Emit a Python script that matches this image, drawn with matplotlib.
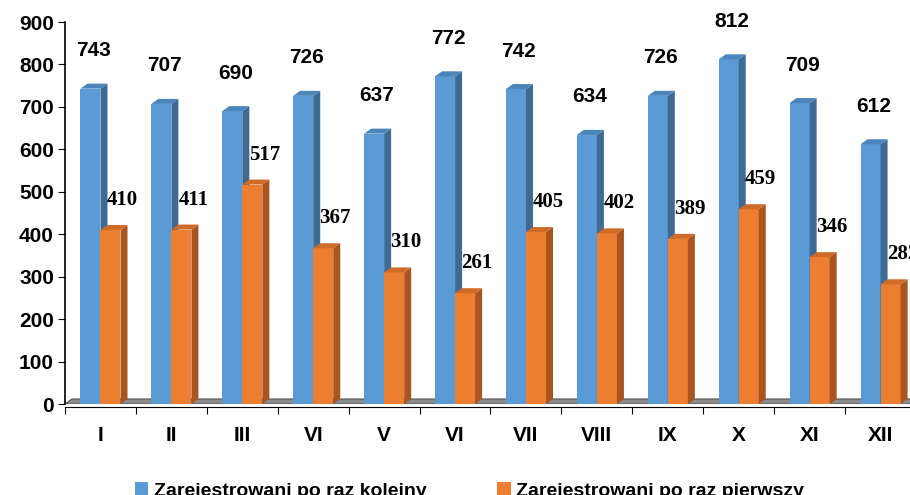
import matplotlib
matplotlib.use("Agg")
import matplotlib.pyplot as plt
from matplotlib.patches import Polygon, Patch
import numpy as np

# data
months = ["I", "II", "III", "VI", "V", "VI", "VII", "VIII", "IX", "X", "XI", "XII"]
kolejny = [743, 707, 690, 726, 637, 772, 742, 634, 726, 812, 709, 612]
pierwszy = [410, 411, 517, 367, 310, 261, 405, 402, 389, 459, 346, 282]

BLUE = ("#5B9BD5", "#3E6A93", "#4C84BC")    # front, side, top
ORANGE = ("#ED7D31", "#A9551F", "#D06B27")
FLOOR = "#8C8C8C"

plt.rcParams["font.family"] = ["Liberation Sans", "DejaVu Sans"]
plt.rcParams["font.weight"] = "bold"

W, H = 910, 495
fig = plt.figure(figsize=(W / 100, H / 100), dpi=100, facecolor="white")
# axes runs slightly past the right edge, as in the source
ax = fig.add_axes([65 / W, 1 - 404 / H, 851 / W, 382 / H])

bw = 0.2825        # bar width in category units
dx = 0.099         # depth offset (x, category units)
dy = 11.8          # depth offset (y, data units)
x = np.arange(len(months))


def _bar3d(ax, xs, vals, colors):
    front, side, top = colors
    ax.bar(xs, vals, width=bw, align="edge", color=front, zorder=3, linewidth=0)
    for x0, v in zip(xs, vals):
        x1 = x0 + bw
        ax.add_patch(Polygon([(x1, 0), (x1 + dx, dy), (x1 + dx, v + dy), (x1, v)],
                             closed=True, facecolor=side, edgecolor="none", zorder=3))
        ax.add_patch(Polygon([(x0, v), (x1, v), (x1 + dx, v + dy), (x0 + dx, v + dy)],
                             closed=True, facecolor=top, edgecolor="none", zorder=3))


# floor
ax.add_patch(Polygon([(-0.5, 0), (12.5, 0), (12.5 + dx, dy), (-0.5 + dx, dy)],
                     closed=True, facecolor=FLOOR, edgecolor="#555555",
                     linewidth=0.8, zorder=1))

_bar3d(ax, x - bw, kolejny, BLUE)
_bar3d(ax, x, pierwszy, ORANGE)

for xi, v in zip(x, kolejny):
    ax.annotate(str(v), (xi - bw / 2, v), xytext=(3, 38), textcoords="offset pixels",
                ha="center", va="center", fontsize=15, fontweight="bold",
                family=["Liberation Sans"])
for xi, v in zip(x, pierwszy):
    ax.annotate(str(v), (xi + bw / 2, v), xytext=(12, 30), textcoords="offset pixels",
                ha="center", va="center", fontsize=15, fontweight="bold",
                family=["Liberation Serif"])

ax.set_xlim(-0.5, 11.5)
ax.set_ylim(0, 900)
ax.set_yticks(range(0, 901, 100))
ax.set_xticks(x)
ax.set_xticklabels(months)
ax.set_xticks(np.arange(-0.5, 12, 1), minor=True)
ax.tick_params(axis="x", which="major", length=0, pad=14, labelsize=15)
ax.tick_params(axis="x", which="minor", length=5, direction="out", width=0.8)
ax.tick_params(axis="y", length=5, direction="out", width=0.8, labelsize=15, pad=3)
for lbl in ax.get_xticklabels() + ax.get_yticklabels():
    lbl.set_fontweight("bold")

for s in ("top", "right"):
    ax.spines[s].set_visible(False)
ax.spines["left"].set_linewidth(1.2)
ax.spines["bottom"].set_linewidth(0.8)
ax.spines["bottom"].set_position(("outward", 2))
ax.set_facecolor("white")

handles = [Patch(facecolor=BLUE[0], label="Zarejestrowani po raz kolejny"),
           Patch(facecolor=ORANGE[0], label="Zarejestrowani po raz pierwszy")]
fig.legend(handles=handles, loc="center", bbox_to_anchor=(0.516, 0.008), ncol=2,
           frameon=False, prop={"weight": "bold", "size": 14},
           handlelength=0.7, handleheight=0.7, handletextpad=0.3, columnspacing=3.6)

fig.savefig("out.png", dpi=100, facecolor="white")
